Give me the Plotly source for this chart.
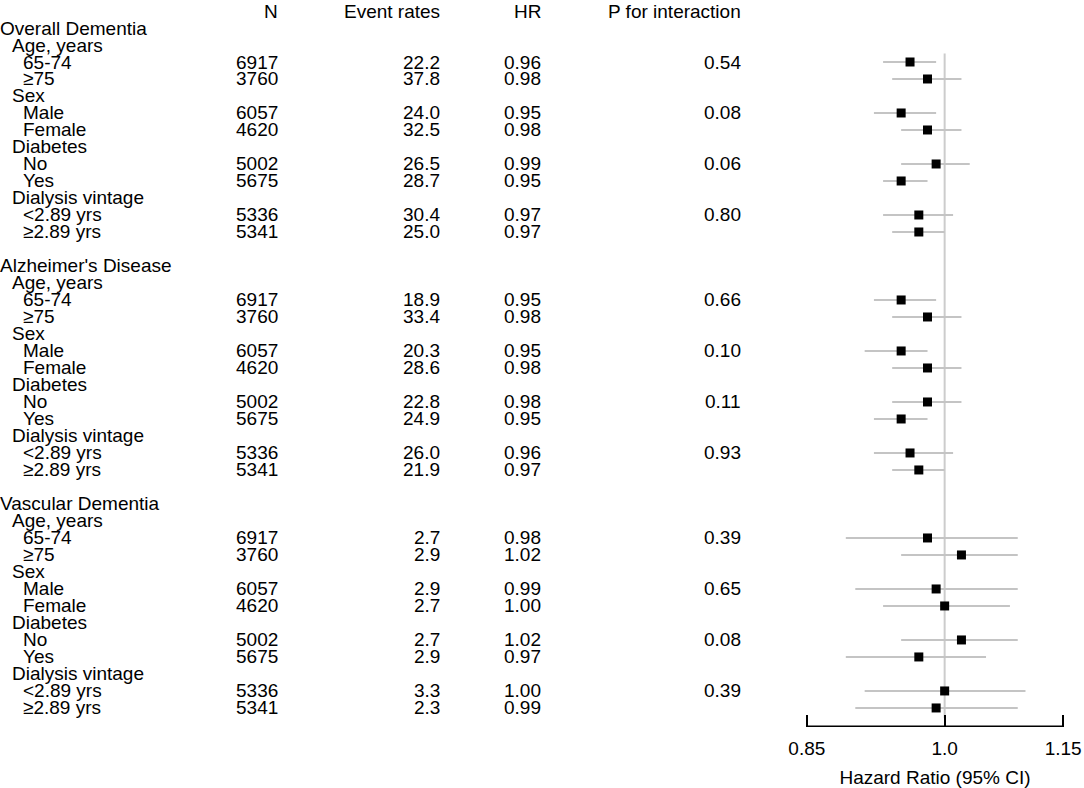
import math
import plotly.graph_objects as go

# ---- data ----
outcomes = ["Overall Dementia", "Alzheimer's Disease", "Vascular Dementia"]
subgroups = ["Age, years", "Sex", "Diabetes", "Dialysis vintage"]
levels = [["65-74", "≥75"], ["Male", "Female"], ["No", "Yes"], ["<2.89 yrs", "≥2.89 yrs"]]
n_values = [6917, 3760, 6057, 4620, 5002, 5675, 5336, 5341]

event_rates = [
    [22.2, 37.8, 24.0, 32.5, 26.5, 28.7, 30.4, 25.0],
    [18.9, 33.4, 20.3, 28.6, 22.8, 24.9, 26.0, 21.9],
    [2.7, 2.9, 2.9, 2.7, 2.7, 2.9, 3.3, 2.3],
]
hr = [
    [0.96, 0.98, 0.95, 0.98, 0.99, 0.95, 0.97, 0.97],
    [0.95, 0.98, 0.95, 0.98, 0.98, 0.95, 0.96, 0.97],
    [0.98, 1.02, 0.99, 1.00, 1.02, 0.97, 1.00, 0.99],
]
ci_low = [
    [0.93, 0.94, 0.92, 0.95, 0.95, 0.93, 0.93, 0.94],
    [0.92, 0.94, 0.91, 0.94, 0.94, 0.92, 0.92, 0.94],
    [0.89, 0.95, 0.90, 0.93, 0.95, 0.89, 0.91, 0.90],
]
ci_high = [
    [0.99, 1.02, 0.99, 1.02, 1.03, 0.98, 1.01, 1.00],
    [0.99, 1.02, 0.98, 1.02, 1.02, 0.98, 1.01, 1.00],
    [1.09, 1.09, 1.09, 1.08, 1.09, 1.05, 1.10, 1.09],
]
p_interaction = [
    ["0.54", "0.08", "0.06", "0.80"],
    ["0.66", "0.10", "0.11", "0.93"],
    ["0.39", "0.65", "0.08", "0.39"],
]
headers = ["N", "Event rates", "HR", "P for interaction"]
x_ticks = [0.85, 1.0, 1.15]
x_ticktext = ["0.85", "1.0", "1.15"]
ref_hr = 1.0

# ---- layout helpers ----
W, H = 1084, 788
AX_L, AX_R = 807, 1063          # pixel x of 0.85 and 1.15
FONT = "Liberation Sans, Arial, sans-serif"
FS = 19
PAD = 0.004                      # log10 padding so end ticks are not on the edge
Y_RANGE = [42.12, -0.647]

lo_log, hi_log = math.log10(x_ticks[0]), math.log10(x_ticks[-1])
ppl = (AX_R - AX_L) / (hi_log - lo_log)   # pixels per log10 unit
PLOT_L = AX_L - PAD * ppl
PLOT_R = AX_R + PAD * ppl


def px(x):
    # pixel x -> paper x
    return (x - PLOT_L) / (PLOT_R - PLOT_L)


col_right = [280, 442, 543, 742]
indent = [0, 12, 23]

annotations = []


def add_text(x, row, text, anchor):
    annotations.append(dict(x=px(x), y=row, xref="paper", yref="y", text=text,
                            showarrow=False, xanchor=anchor, yanchor="middle",
                            borderpad=0,
                            font=dict(family=FONT, size=FS, color="black")))


for c, h in enumerate(headers):
    add_text(col_right[c], 0, h, "right")

ci_x, ci_y, pt_x, pt_y = [], [], [], []
row = 1
for k, outcome in enumerate(outcomes):
    add_text(indent[0], row, outcome, "left")
    row += 1
    for j, sg in enumerate(subgroups):
        add_text(indent[1], row, sg, "left")
        row += 1
        for m, lv in enumerate(levels[j]):
            i = 2 * j + m
            add_text(indent[2], row, lv, "left")
            add_text(col_right[0], row, str(n_values[i]), "right")
            add_text(col_right[1], row, f"{event_rates[k][i]:.1f}", "right")
            add_text(col_right[2], row, f"{hr[k][i]:.2f}", "right")
            if m == 0:
                add_text(col_right[3], row, p_interaction[k][j], "right")
            ci_x += [ci_low[k][i], ci_high[k][i], None]
            ci_y += [row, row, None]
            pt_x.append(hr[k][i])
            pt_y.append(row)
            row += 1
    row += 1

fig = go.Figure()
# reference line at HR = 1
fig.add_trace(go.Scatter(x=[ref_hr, ref_hr], y=[2.5, 41.6], mode="lines",
                         line=dict(color="#cccccc", width=2),
                         hoverinfo="skip", showlegend=False))
fig.add_trace(go.Scatter(x=ci_x, y=ci_y, mode="lines",
                         line=dict(color="#c4c4c4", width=2),
                         hoverinfo="skip", showlegend=False))
fig.add_trace(go.Scatter(x=pt_x, y=pt_y, mode="markers",
                         marker=dict(symbol="square", size=9, color="black"),
                         showlegend=False))
# axis line only between the outer ticks
fig.add_trace(go.Scatter(x=[x_ticks[0], x_ticks[-1]], y=[Y_RANGE[0] - 0.04] * 2,
                         mode="lines", line=dict(color="black", width=1.5),
                         cliponaxis=False, hoverinfo="skip", showlegend=False))

fig.update_layout(
    width=W, height=H,
    margin=dict(l=PLOT_L, r=W - PLOT_R, t=0, b=61),
    plot_bgcolor="white", paper_bgcolor="white",
    font=dict(family=FONT, size=FS, color="black"),
    annotations=annotations,
    xaxis=dict(type="log", range=[lo_log - PAD, hi_log + PAD],
               tickvals=x_ticks, ticktext=x_ticktext,
               ticks="inside", ticklen=12, tickwidth=1.5, tickcolor="black",
               showline=False, showgrid=False, zeroline=False,
               ticklabelstandoff=8,
               tickfont=dict(family=FONT, size=FS),
               title=dict(text="Hazard Ratio (95% CI)", standoff=13,
                          font=dict(family=FONT, size=FS))),
    yaxis=dict(range=Y_RANGE, visible=False, showgrid=False, zeroline=False),
)

fig.write_html("out.html", config={"displayModeBar": False},
               post_script="document.body.style.margin='0px';")
